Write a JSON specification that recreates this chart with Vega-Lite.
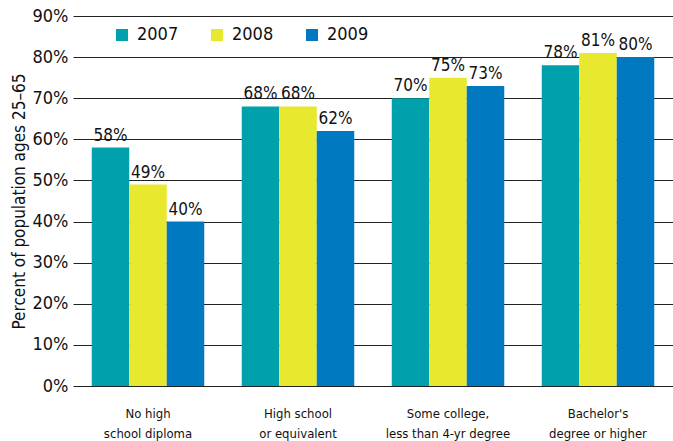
{
  "$schema": "https://vega.github.io/schema/vega-lite/v6.json",
  "width": 600,
  "height": 370,
  "autosize": {"type": "none"},
  "padding": {"left": 73, "top": 16, "right": 0, "bottom": 55},
  "background": "white",
  "config": {
    "view": {"stroke": null},
    "font": "DejaVu Sans Condensed, Open Sans, sans-serif",
    "text": {"font": "DejaVu Sans Condensed, Open Sans, sans-serif"}
  },
  "data": {
    "values": [
      {"edu": "No high|school diploma", "year": "2007", "pct": 0.58},
      {"edu": "No high|school diploma", "year": "2008", "pct": 0.49},
      {"edu": "No high|school diploma", "year": "2009", "pct": 0.40},
      {"edu": "High school|or equivalent", "year": "2007", "pct": 0.68},
      {"edu": "High school|or equivalent", "year": "2008", "pct": 0.68},
      {"edu": "High school|or equivalent", "year": "2009", "pct": 0.62},
      {"edu": "Some college,|less than 4-yr degree", "year": "2007", "pct": 0.70},
      {"edu": "Some college,|less than 4-yr degree", "year": "2008", "pct": 0.75},
      {"edu": "Some college,|less than 4-yr degree", "year": "2009", "pct": 0.73},
      {"edu": "Bachelor's|degree or higher", "year": "2007", "pct": 0.78},
      {"edu": "Bachelor's|degree or higher", "year": "2008", "pct": 0.81},
      {"edu": "Bachelor's|degree or higher", "year": "2009", "pct": 0.80}
    ]
  },
  "encoding": {
    "x": {
      "field": "edu",
      "type": "nominal",
      "sort": null,
      "scale": {"paddingInner": 0.25, "paddingOuter": 0.125},
      "axis": {
        "title": null,
        "labelAngle": 0,
        "labelExpr": "split(datum.label, '|')",
        "labelFontSize": 13,
        "labelColor": "#111",
        "labelPadding": 21,
        "labelLineHeight": 20,
        "ticks": false,
        "domain": false
      }
    },
    "xOffset": {"field": "year", "type": "nominal"},
    "y": {
      "field": "pct",
      "type": "quantitative",
      "scale": {"domain": [0, 0.9]},
      "axis": {
        "values": [0, 0.1, 0.2, 0.3, 0.4, 0.5, 0.6, 0.7, 0.8, 0.9],
        "format": ".0%",
        "labelFontSize": 18,
        "labelColor": "#111",
        "labelPadding": 5,
        "ticks": false,
        "domain": false,
        "gridColor": "#222",
        "gridOpacity": 1,
        "gridWidth": 1.2,
        "title": "Percent of population ages 25–65",
        "titleFontSize": 17,
        "titleFontWeight": "normal",
        "titleColor": "#111",
        "titlePadding": 4
      }
    }
  },
  "layer": [
    {
      "mark": {"type": "bar"},
      "encoding": {
        "color": {
          "field": "year",
          "type": "nominal",
          "scale": {"domain": ["2007", "2008", "2009"], "range": ["#00A0AC", "#E8E82E", "#0079C1"]},
          "legend": {
            "title": null,
            "orient": "none",
            "legendX": 40,
            "legendY": 10,
            "direction": "horizontal",
            "symbolType": "square",
            "symbolSize": 144,
            "symbolOpacity": 1,
            "labelFontSize": 18,
            "labelColor": "#111",
            "labelOffset": 6,
            "columnPadding": 29
          }
        }
      }
    },
    {
      "mark": {"type": "text", "baseline": "alphabetic", "dy": -7, "fontSize": 17, "color": "#111"},
      "encoding": {
        "text": {"field": "pct", "type": "quantitative", "format": ".0%"}
      }
    }
  ]
}
